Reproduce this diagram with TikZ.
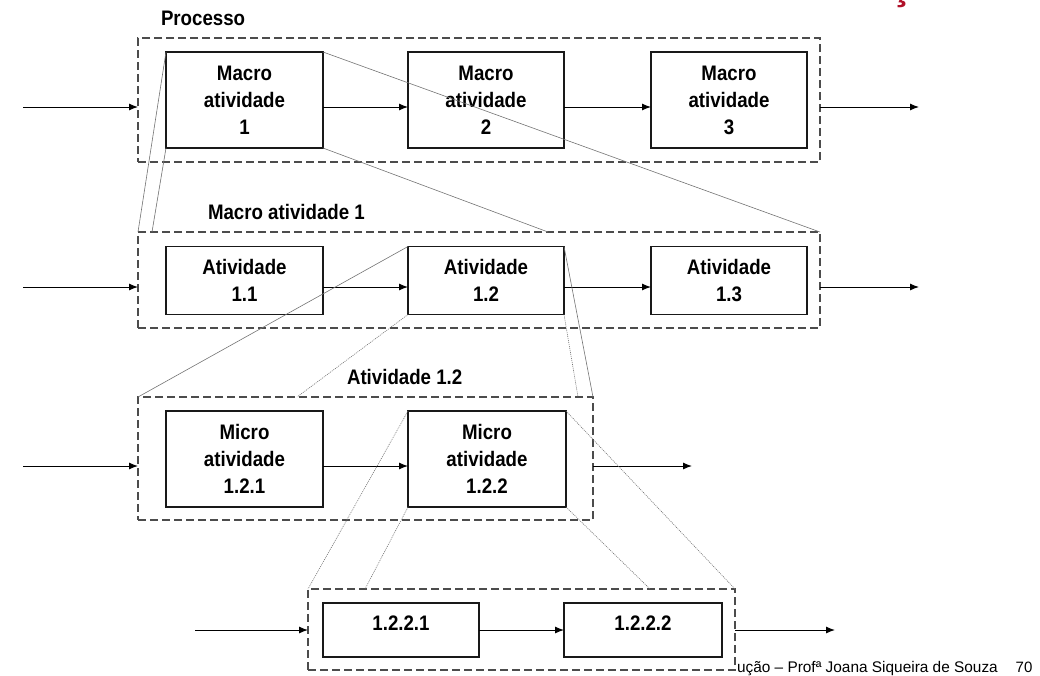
\documentclass[tikz,border=0pt]{standalone}
\usepackage{fontspec}
\setmainfont{Liberation Sans}
\newfontfamily\narrowsans{Liberation Sans}[FakeStretch=0.89]
\usetikzlibrary{arrows.meta}
\definecolor{titlered}{RGB}{176,16,40}

\begin{document}
\begin{tikzpicture}[x=1pt,y=-1pt,
  every node/.style={inner sep=0pt, outer sep=0pt},
  actbox/.style={draw=black!90, line width=1.2pt, align=center,
    font=\narrowsans\bfseries\fontsize{21}{27}\selectfont},
  boxtext/.style={font=\narrowsans\bfseries\fontsize{21}{24}\selectfont},
  groupbox/.style={draw=black!70, line width=1.2pt, dash pattern=on 8pt off 4pt},
  grouplabel/.style={anchor=west, font=\narrowsans\bfseries\fontsize{21}{24}\selectfont},
  flow/.style={line width=1pt, -{Latex[length=9pt,width=7pt]}},
  zoomline/.style={draw=black!55, line width=0.6pt},
  zoomdot/.style={draw=black!55, line width=0.6pt, dash pattern=on 1pt off 1pt},
]
\useasboundingbox (0,0) rectangle (1040,675);

% clipped tail of the page title
\node[anchor=base, text=titlered, font=\bfseries\fontsize{40}{40}\selectfont] (ttl) at (902,-1) {ç};

% ---------- level 1: process ----------
\node[groupbox, minimum width=682pt, minimum height=124pt] (p1) at (479,100) {};
\node[grouplabel] (p1l) at (161,18) {Processo};
\node[actbox, minimum width=157pt, minimum height=96pt] (m1) at (244.5,100) {Macro\\atividade\\1};
\node[actbox, minimum width=156pt, minimum height=96pt] (m2) at (486,100) {Macro\\atividade\\2};
\node[actbox, minimum width=156pt, minimum height=96pt] (m3) at (729,100) {Macro\\atividade\\3};
\coordinate (in1) at (23,107);
\coordinate (out1) at (919,107);

% ---------- level 2: macro activity 1 ----------
\node[groupbox, minimum width=682pt, minimum height=96pt] (p2) at (479,280) {};
\node[grouplabel] (p2l) at (208,212) {Macro atividade 1};
\node[actbox, minimum width=157pt, minimum height=68pt] (a11) at (244.5,280.5) {Atividade\\1.1};
\node[actbox, minimum width=156pt, minimum height=68pt] (a12) at (486,280.5) {Atividade\\1.2};
\node[actbox, minimum width=156pt, minimum height=68pt] (a13) at (729,280.5) {Atividade\\1.3};
\coordinate (in2) at (23,287);
\coordinate (out2) at (919,287);

% ---------- level 3: activity 1.2 ----------
\node[groupbox, minimum width=455pt, minimum height=123pt] (p3) at (365.5,458.5) {};
\node[grouplabel] (p3l) at (347,377) {Atividade 1.2};
\node[actbox, minimum width=157pt, minimum height=96pt] (u1) at (244.5,459) {Micro\\atividade\\1.2.1};
\node[actbox, minimum width=158pt, minimum height=96pt] (u2) at (487,459) {Micro\\atividade\\1.2.2};
\coordinate (in3) at (23,466);
\coordinate (out3) at (692,466);

% ---------- level 4: micro activity 1.2.2 ----------
\node[anchor=base west, font=\fontsize{15.4}{18}\selectfont] (foot) at (737,672) {ução – Profª Joana Siqueira de Souza};
\node[anchor=base, font=\fontsize{15}{18}\selectfont] (pg) at (1024,672) {70};
\node[groupbox, fill=white, minimum width=427pt, minimum height=81pt] (p4) at (521.5,629.5) {};
\node[actbox, minimum width=156pt, minimum height=54pt] (n1) at (401,630) {};
\node[actbox, minimum width=158pt, minimum height=54pt] (n2) at (643,630) {};
\node[boxtext] (n1t) at (401,623) {1.2.2.1};
\node[boxtext] (n2t) at (643,623) {1.2.2.2};
\coordinate (in4) at (195,630);
\coordinate (out4) at (835,630);

% ---------- flows ----------
\draw[flow] (in1) -- (in1 -| p1.west);
\draw[flow] (m1.east |- in1) -- (m2.west |- in1);
\draw[flow] (m2.east |- in1) -- (m3.west |- in1);
\draw[flow] (p1.east |- out1) -- (out1);

\draw[flow] (in2) -- (in2 -| p2.west);
\draw[flow] (a11.east |- in2) -- (a12.west |- in2);
\draw[flow] (a12.east |- in2) -- (a13.west |- in2);
\draw[flow] (p2.east |- out2) -- (out2);

\draw[flow] (in3) -- (in3 -| p3.west);
\draw[flow] (u1.east |- in3) -- (u2.west |- in3);
\draw[flow] (p3.east |- out3) -- (out3);

\draw[flow] (in4) -- (in4 -| p4.west);
\draw[flow] (n1.east |- in4) -- (n2.west |- in4);
\draw[flow] (p4.east |- out4) -- (out4);

% ---------- zoom projections ----------
\coordinate (b2) at (152,232);
\coordinate (d2) at (548,232);
\draw[zoomline] (m1.north west) -- (p2.north west);
\draw[zoomline] (m1.south west) -- (b2);
\draw[zoomline] (m1.north east) -- (p2.north east);
\draw[zoomline] (m1.south east) -- (d2);

\coordinate (f3) at (297,397);
\coordinate (h3) at (578,397);
\draw[zoomline] (a12.north west) -- (p3.north west);
\draw[zoomdot] (a12.south west) -- (f3);
\draw[zoomline] (a12.north east) -- (p3.north east);
\draw[zoomdot] (a12.south east) -- (h3);

\coordinate (j4) at (365,589);
\coordinate (l4) at (650,589);
\draw[zoomdot] (u2.north west) -- (p4.north west);
\draw[zoomdot] (u2.south west) -- (j4);
\draw[zoomdot] (u2.north east) -- (p4.north east);
\draw[zoomdot] (u2.south east) -- (l4);
\end{tikzpicture}
\end{document}
